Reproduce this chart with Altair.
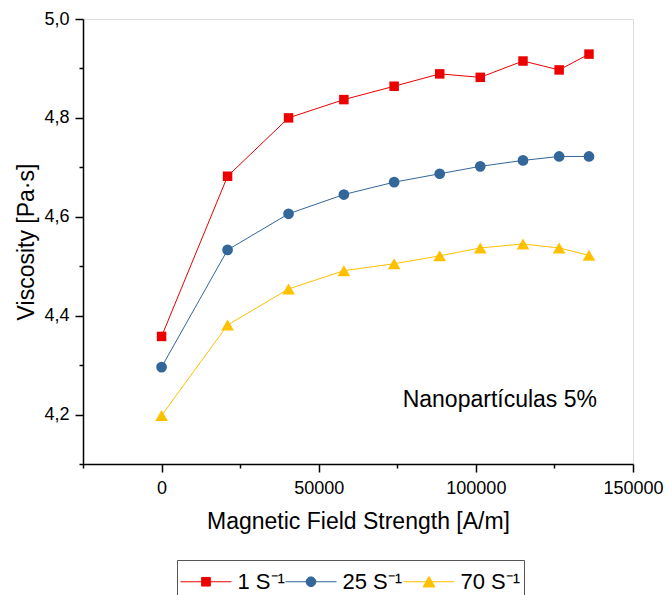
import altair as alt
import pandas as pd

# ---- data ----
field_strength = [0, 21000, 40400, 58000, 74000, 88500, 101400, 115000, 126500, 136000]
visc_1 = [4.358, 4.682, 4.800, 4.837, 4.864, 4.889, 4.882, 4.915, 4.897, 4.929]
visc_25 = [4.296, 4.533, 4.606, 4.645, 4.670, 4.687, 4.702, 4.714, 4.722, 4.722]
visc_70 = [4.198, 4.381, 4.454, 4.491, 4.505, 4.521, 4.537, 4.545, 4.537, 4.522]
series_names = ["1 S\u207b\u00b9", "25 S\u207b\u00b9", "70 S\u207b\u00b9"]
x_major = [0, 50000, 100000, 150000]
x_minor = [-25000, 25000, 75000, 125000]
y_major = [4.2, 4.4, 4.6, 4.8, 5.0]
y_minor = [4.1, 4.3, 4.5, 4.7, 4.9]
annotation = ["Nanopart\u00edculas 5%"]

# ---- styles ----
FONT = "Liberation Sans"
colors = ["#ec0000", "#336699", "#ffc000"]
marker_shapes = ["square", "circle", "triangle-up"]
marker_sizes = [90, 115, 160]
# legend symbols: a line through the marker (unit box scaled by sqrt(size)/2 = 18 px)
legend_paths = [
    "M-1.417,0H1.417M-0.24,-0.24H0.24V0.24H-0.24Z",
    "M-1.417,0H1.417M-0.27,0A0.27,0.27,0,1,0,0.27,0A0.27,0.27,0,1,0,-0.27,0Z",
    "M-1.417,0H1.417M0,-0.29L0.33,0.29L-0.33,0.29Z",
]

rows = []
for name, vals in zip(series_names, [visc_1, visc_25, visc_70]):
    for f, v in zip(field_strength, vals):
        rows.append({"field": f, "visc": v, "series": name})
df = pd.DataFrame(rows)

xs = alt.Scale(domain=[-25000, 150000], nice=False, zero=False)
ys = alt.Scale(domain=[4.1, 5.0], nice=False, zero=False)

x_axis_major = alt.Axis(
    values=x_major, orient="bottom", grid=False, tickSize=8, tickWidth=1.5,
    tickColor="black", domainColor="black", domainWidth=1.5,
    labelExpr="format(datum.value, 'd')", labelFont=FONT, labelFontSize=18,
    labelColor="black", labelPadding=7, labelFlush=False, labelOverlap=False,
    title="Magnetic Field Strength [A/m]", titleFont=FONT, titleFontSize=23,
    titleFontWeight="normal", titleColor="black", titleY=64.3,
    titleBaseline="alphabetic",
)
y_axis_major = alt.Axis(
    values=y_major, orient="left", grid=False, tickSize=8, tickWidth=1.5,
    tickColor="black", domainColor="black", domainWidth=1.5,
    labelExpr="replace(format(datum.value, '.1f'), '.', ',')", labelFont=FONT,
    labelFontSize=18, labelColor="black", labelPadding=6, labelFlush=False,
    labelOverlap=False,
    title="Viscosity [Pa\u00b7s]", titleFont=FONT, titleFontSize=23,
    titleFontWeight="normal", titleColor="black", titleAngle=270,
    titleX=-49.7, titleY=222.5, titleAlign="center", titleBaseline="alphabetic",
)
x_axis_minor = alt.Axis(
    values=x_minor, orient="bottom", grid=False, tickSize=4, tickWidth=1.5,
    tickColor="black", domain=False, labels=False, title="",
)
y_axis_minor = alt.Axis(
    values=y_minor, orient="left", grid=False, tickSize=4, tickWidth=1.5,
    tickColor="black", domain=False, labels=False, title="",
)

base = alt.Chart(df)

line_layers = []
point_layers = []
for i, (name, col, shp, sz) in enumerate(zip(series_names, colors, marker_shapes, marker_sizes)):
    sub = base.transform_filter(alt.datum.series == name)
    line_layers.append(
        sub.mark_line(strokeWidth=1, color=col).encode(
            x=alt.X("field:Q", scale=xs, axis=x_axis_major if i == 0 else None),
            y=alt.Y("visc:Q", scale=ys, axis=y_axis_major if i == 0 else None),
            order=alt.Order("field:Q"),
        )
    )
    point_layers.append(
        sub.mark_point(shape=shp, filled=True, size=sz, opacity=1, color=col).encode(
            x=alt.X("field:Q", scale=xs, axis=None),
            y=alt.Y("visc:Q", scale=ys, axis=None),
        )
    )

legend = alt.Legend(
    orient="none", legendX=94, legendY=541, direction="horizontal", title=None,
    symbolSize=1296, symbolStrokeWidth=1, symbolOffset=7.5,
    labelFont=FONT, labelFontSize=22, labelColor="black", labelOffset=13,
    columnPadding=-4, padding=3, strokeColor="#555555", fillColor="white",
)

# carries the legend (line + marker symbols) and the minor ticks; draws nothing
legend_layer = (
    base.transform_filter("false")
    .mark_point(filled=True, opacity=1, strokeWidth=1)
    .encode(
        x=alt.X("field:Q", scale=xs, axis=x_axis_minor),
        y=alt.Y("visc:Q", scale=ys, axis=y_axis_minor),
        fill=alt.Fill("series:N", scale=alt.Scale(domain=series_names, range=colors), legend=legend),
        stroke=alt.Stroke("series:N", scale=alt.Scale(domain=series_names, range=colors), legend=legend),
        shape=alt.Shape("series:N", scale=alt.Scale(domain=series_names, range=legend_paths), legend=legend),
    )
)

text = alt.Chart(pd.DataFrame({"t": annotation})).mark_text(
    align="right", baseline="alphabetic", font=FONT, fontSize=23, color="black"
).encode(x=alt.value(514), y=alt.value(387.7), text="t:N")

chart = (
    alt.layer(*line_layers, *point_layers, legend_layer, text)
    .resolve_axis(x="independent", y="independent")
    .properties(
        width=550, height=445,
        autosize=alt.AutoSizeParams(type="none"),
        padding={"left": 83, "top": 19, "right": 34, "bottom": 131},
    )
    .configure_view(stroke="black", strokeWidth=1.5)
    .configure(background="white")
)

chart.save("out.html", embed_options={"renderer": "svg", "actions": False})
